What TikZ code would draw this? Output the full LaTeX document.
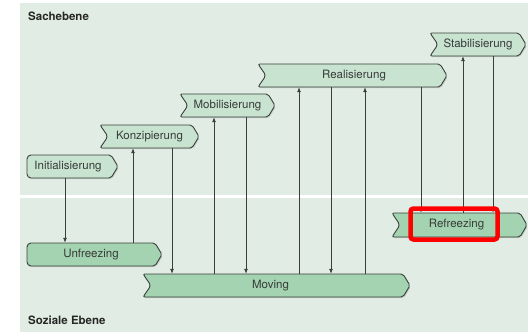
\documentclass[tikz,border=0pt]{standalone}
\usepackage{fontspec}
\setmainfont{TeX Gyre Heros}
\usetikzlibrary{arrows.meta,shadows}
\definecolor{bgc}{RGB}{225,237,228}
\definecolor{upc}{RGB}{200,228,208}
\definecolor{loc}{RGB}{163,211,176}
\definecolor{edgec}{RGB}{58,62,60}
\definecolor{txtc}{RGB}{55,58,56}
\newcommand\shpRound[8]{%
  \path[shp, fill=#6] ({#2+8},#4) [rounded corners=2pt] -- ({#3-7},#4) -- (#3,{(#4+#5)/2}) -- ({#3-7},#5) [rounded corners=4pt] -- (#2,#5) -- (#2,#4) -- cycle;
  \node[lbl, minimum width={#3-#2}, minimum height={#5-#4}] (#1) at ({(#2+#3)/2},{(#4+#5)/2}) {\hspace*{#7}#8};
}
\newcommand\shpNotch[8]{%
  \path[shp, fill=#6] ({#2+14},#4) [rounded corners=2pt] -- ({#3-7},#4) -- (#3,{(#4+#5)/2}) -- ({#3-7},#5) -- (#2,#5) [rounded corners=3pt] -- ({#2+8},{(#4+#5)/2}) [rounded corners=2pt] -- (#2,#4) -- cycle;
  \node[lbl, minimum width={#3-#2}, minimum height={#5-#4}] (#1) at ({(#2+#3)/2},{(#4+#5)/2}) {\hspace*{#7}#8};
}
\tikzset{
  shp/.style={draw=edgec, line width=0.9pt, drop shadow={shadow xshift=1pt, shadow yshift=-1.2pt, opacity=0.3}},
  lbl/.style={inner sep=0pt, text=txtc, font=\fontsize{11.5}{13}\selectfont},
  arr/.style={draw=edgec, line width=0.8pt, -{Latex[length=5pt,width=4pt]}},
  ttl/.style={anchor=base west, text=black!85, font=\fontsize{11.5}{13}\selectfont\bfseries, inner sep=0pt}
}
\begin{document}
\begin{tikzpicture}[x=1pt,y=-1pt]
\useasboundingbox (0,0) rectangle (528,332);
\fill[bgc] (20,3) rectangle (528,332);
\draw[white, line width=2.6pt] (20,196.5) -- (528,196.5);
\node[ttl] (sach) at (28,20.7) {Sachebene};
\node[ttl] (soz) at (28,324.3) {Soziale Ebene};
% upper (Sachebene)
\shpRound{init}{27}{118}{155}{178}{upc}{-9pt}{Initialisierung}
\shpNotch{konz}{100}{199}{125}{148}{upc}{0pt}{Konzipierung}
\shpNotch{mob}{180}{275}{94}{117}{upc}{0pt}{Mobilisierung}
\shpNotch{real}{258}{447}{64}{87}{upc}{3pt}{Realisierung}
\shpNotch{stab}{430}{526}{33}{56}{upc}{0pt}{Stabilisierung}
% lower (Soziale Ebene)
\shpRound{unfr}{27}{162}{243}{266}{loc}{-7pt}{Unfreezing}
\shpNotch{mov}{143}{410}{274}{297}{loc}{-12pt}{Moving}
\shpNotch{refr}{392}{527}{213}{237}{loc}{-6pt}{Refreezing}
% connector x positions
\coordinate (v1) at (65,0);
\coordinate (v2) at (133,0);
\coordinate (v3) at (172,0);
\coordinate (v4) at (214,0);
\coordinate (v5) at (246,0);
\coordinate (v6) at (299,0);
\coordinate (v7) at (331,0);
\coordinate (v8) at (365,0);
\coordinate (v9) at (421,0);
\coordinate (v10) at (463,0);
\coordinate (v11) at (493,0);
\draw[arr] (init.south -| v1) -- (unfr.north -| v1);
\draw[arr] (unfr.north -| v2) -- (konz.south -| v2);
\draw[arr] (konz.south -| v3) -- (mov.north -| v3);
\draw[arr] (mov.north -| v4) -- (mob.south -| v4);
\draw[arr] (mob.south -| v5) -- (mov.north -| v5);
\draw[arr] (mov.north -| v6) -- (real.south -| v6);
\draw[arr] (real.south -| v7) -- (mov.north -| v7);
\draw[arr] (mov.north -| v8) -- (real.south -| v8);
\draw[arr] (real.south -| v9) -- (refr.north -| v9);
\draw[arr] (refr.north -| v10) -- (stab.south -| v10);
\draw[arr] (stab.south -| v11) -- (refr.north -| v11);
% highlight
\node[draw=red, line width=4.5pt, rounded corners=3pt, minimum width=87pt, minimum height=31pt, inner sep=0pt] (hl) at (454,224) {};
\end{tikzpicture}
\end{document}
